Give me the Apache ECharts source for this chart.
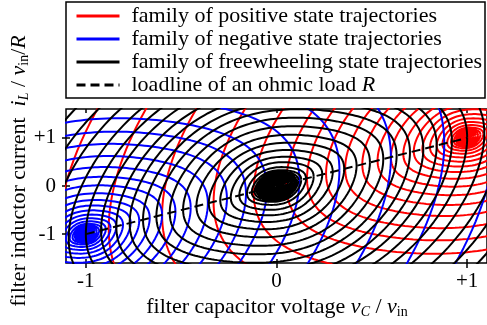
<!DOCTYPE html>
<html>
<head>
<meta charset="utf-8">
<script src="https://cdn.jsdelivr.net/npm/echarts@6/dist/echarts.min.js"></script>
<style>
html, body { margin: 0; padding: 0; background: #fff; }
#chart { width: 487px; height: 325px; }
</style>
</head>
<body>
<div id="chart"></div>
<script>
// families, in legend order
const familyNames = [
  'family of positive state trajectories',
  'family of negative state trajectories',
  'family of freewheeling state trajectories'
]
const familyColors = ['#ff0000', '#0000ff', '#000000']
// equilibrium of each family, on the load line (v_C = i_L)
const familyCentres = [1, -1, 0]

// half widths of the drawn rings (in v_in)
// positive and negative families are mirror images of each other
const stateRadii = [2.15, 1.88, 1.6, 1.33, 1.12, 0.95, 0.84, 0.74, 0.64, 0.55, 0.47, 0.4,
  0.335, 0.28, 0.235, 0.195, 0.16, 0.13, 0.105, 0.085, 0.07, 0.058, 0.048, 0.04, 0.033,
  0.027, 0.021, 0.016, 0.011, 0.007, 0.003]
const freewheelRadii = [1.55, 1.42, 1.3, 1.19, 1.09, 1.0, 0.92, 0.84, 0.77, 0.7, 0.63, 0.56,
  0.49, 0.42, 0.355, 0.295, 0.24, 0.195, 0.155, 0.13, 0.115, 0.104, 0.094, 0.085, 0.076,
  0.068, 0.06, 0.052, 0.045, 0.038, 0.031, 0.025, 0.019, 0.014, 0.009, 0.004]
const familyRadii = [stateRadii, stateRadii, freewheelRadii]
// height / width of a ring
const ringAspect = 2.5

const loadName = 'loadline of an ohmic load R'
const loadline = [[-1, -1], [1, 1]]

const xTicks = [-1, 0, 1]
const yTicks = [-1, 0, 1]

const FONT = 'Liberation Serif'

// closed ring round the centre; extremes in v_C sit on the load line
function ringPoints(centre, radii) {
  const pts = []
  radii.forEach(r => {
    const n = 220
    for (let k = 0; k <= n; k++) {
      const t = 2 * Math.PI * k / n
      pts.push([
        centre + r * Math.cos(t),
        centre + r * (ringAspect * Math.sin(t) + 0.85 * Math.cos(t) + 0.15 * Math.cos(3 * t))
      ])
    }
    pts.push(['-', '-'])
  })
  return pts
}

const tickFmt = v => (v > 0 ? '+' + v : String(v))

const chart = echarts.init(document.getElementById('chart'))

const series = familyNames.map((name, i) => ({
  name: name,
  type: 'line',
  data: ringPoints(familyCentres[i], familyRadii[i]),
  symbol: 'none',
  showSymbol: false,
  connectNulls: false,
  silent: true,
  lineStyle: { color: familyColors[i], width: 2 },
  itemStyle: { color: familyColors[i] }
}))

series.push({
  name: loadName,
  type: 'line',
  data: loadline,
  symbol: 'none',
  silent: true,
  lineStyle: { color: '#000', width: 2, type: [9, 5] },
  itemStyle: { color: '#000' }
})

const labelStyle = { fontFamily: FONT, fontSize: 21, color: '#000' }

const nameRich = {
  t: { fontFamily: FONT, fontSize: 22, lineHeight: 24 },
  i: { fontFamily: FONT, fontSize: 22, fontStyle: 'italic', lineHeight: 24 },
  si: { fontFamily: FONT, fontSize: 14, fontStyle: 'italic', lineHeight: 14, verticalAlign: 'bottom' },
  s: { fontFamily: FONT, fontSize: 14, lineHeight: 14, verticalAlign: 'bottom' }
}

const option = {
  animation: false,
  backgroundColor: '#fff',
  grid: {
    show: true,
    left: 66,
    right: -3,
    top: 109,
    bottom: 62,
    borderColor: '#000',
    borderWidth: 1.5
  },
  legend: {
    orient: 'vertical',
    left: 75,
    top: 5,
    padding: 0,
    itemGap: 1,
    itemWidth: 43,
    itemHeight: 14,
    selectedMode: false,
    itemStyle: { opacity: 0 },
    lineStyle: { width: 3 },
    data: familyNames.concat([loadName]),
    formatter: name => name === loadName
      ? '{g|}{t|loadline of an ohmic load }{i|R}'
      : '{g|}{t|' + name + '}',
    textStyle: {
      color: '#000',
      fontFamily: FONT,
      fontSize: 22,
      rich: {
        g: { width: 7 },
        t: { fontFamily: FONT, fontSize: 22, lineHeight: 20, color: '#000' },
        i: { fontFamily: FONT, fontSize: 22, lineHeight: 20, fontStyle: 'italic', color: '#000' }
      }
    }
  },
  xAxis: [
    {
      type: 'value',
      min: -1.104,
      max: 1.104,
      position: 'bottom',
      offset: -4,
      axisLine: { show: false, onZero: false },
      axisTick: { show: true, inside: false, length: 9, customValues: xTicks, lineStyle: { color: '#000', width: 1.5 } },
      axisLabel: { customValues: xTicks, formatter: tickFmt, margin: 12, ...labelStyle },
      splitLine: { show: false }
    },
    {
      type: 'value',
      min: -1.104,
      max: 1.104,
      position: 'top',
      axisLine: { show: false, onZero: false },
      axisTick: { show: true, inside: true, length: 4, customValues: xTicks, lineStyle: { color: '#000', width: 1.5 } },
      axisLabel: { show: false },
      splitLine: { show: false }
    }
  ],
  yAxis: [
    {
      type: 'value',
      min: -1.6,
      max: 1.6,
      position: 'left',
      offset: -4,
      axisLine: { show: false, onZero: false },
      axisTick: { show: true, inside: false, length: 8, customValues: yTicks, lineStyle: { color: '#000', width: 1.5 } },
      axisLabel: { customValues: yTicks, formatter: tickFmt, margin: 14, ...labelStyle },
      splitLine: { show: false }
    }
  ],
  graphic: [
    {
      type: 'rect',
      shape: { x: 66, y: 2, width: 419, height: 96 },
      style: { fill: 'none', stroke: '#000', lineWidth: 1.5 },
      silent: true
    },
    {
      type: 'text',
      x: 277,
      y: 307,
      silent: true,
      style: {
        text: '{t|filter capacitor voltage }{i|v}{si|C}{t| / }{i|v}{s|in}',
        align: 'center',
        verticalAlign: 'middle',
        textAlign: 'center',
        textVerticalAlign: 'middle',
        fill: '#000',
        rich: nameRich
      }
    },
    {
      type: 'text',
      x: 19,
      y: 171,
      rotation: Math.PI / 2,
      silent: true,
      style: {
        text: '{t|filter inductor current  }{i|i}{si|L}{t| / }{i|v}{s|in}{t|/}{i|R}',
        align: 'center',
        verticalAlign: 'middle',
        textAlign: 'center',
        textVerticalAlign: 'middle',
        fill: '#000',
        rich: nameRich
      }
    }
  ],
  series: series
}

chart.setOption(option)
</script>
</body>
</html>
